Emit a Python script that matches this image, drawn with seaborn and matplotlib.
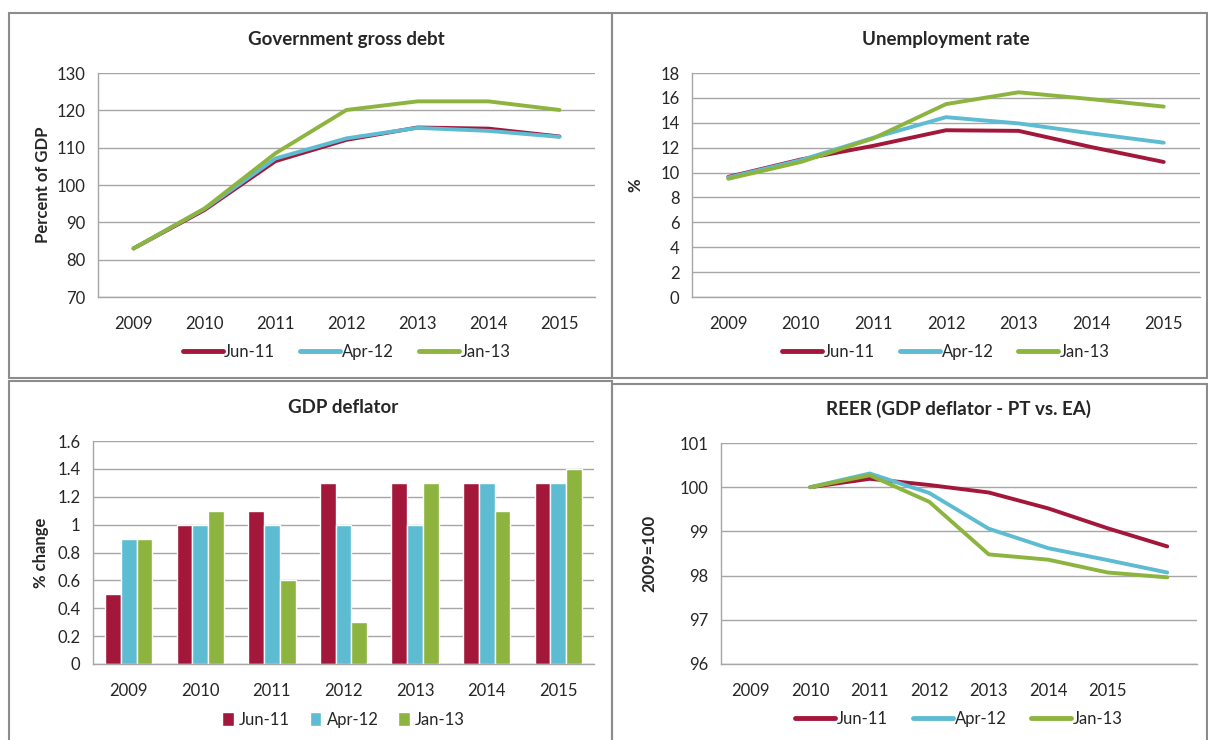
import numpy as np
import pandas as pd
import matplotlib
matplotlib.use('Agg')
import matplotlib.pyplot as plt
from matplotlib.patches import Rectangle
import seaborn as sns

# ---- Data ----
years = ['2009', '2010', '2011', '2012', '2013', '2014', '2015']
vintages = ['Jun-11', 'Apr-12', 'Jan-13']
colors = {'Jun-11': '#A3173A', 'Apr-12': '#5DBCD2', 'Jan-13': '#8DB43F'}

debt_jun11 = [83.0, 93.3, 106.4, 112.1, 115.4, 115.1, 113.0]
debt_apr12 = [83.0, 93.6, 107.1, 112.5, 115.3, 114.5, 112.9]
debt_jan13 = [83.0, 93.7, 108.5, 120.1, 122.4, 122.4, 120.1]

unemp_jun11 = [9.65, 11.05, 12.15, 13.4, 13.35, 12.05, 10.85]
unemp_apr12 = [9.6, 11.0, 12.8, 14.45, 13.95, 13.15, 12.4]
unemp_jan13 = [9.5, 10.85, 12.75, 15.5, 16.45, 15.9, 15.3]

defl_jun11 = [0.5, 1.0, 1.1, 1.3, 1.3, 1.3, 1.3]
defl_apr12 = [0.9, 1.0, 1.0, 1.0, 1.0, 1.3, 1.3]
defl_jan13 = [0.9, 1.1, 0.6, 0.3, 1.3, 1.1, 1.4]

# REER axis has an extra unlabeled slot at the end; data start at the "2010" slot
reer_labels = years + ['']
reer_jun11 = [100.0, 100.19, 100.05, 99.88, 99.52, 99.07, 98.66]
reer_apr12 = [100.0, 100.31, 99.87, 99.06, 98.62, 98.35, 98.07]
reer_jan13 = [100.0, 100.27, 99.67, 98.48, 98.36, 98.07, 97.96]


def long_frame(series, positions):
    rows = []
    for name, vals in zip(vintages, series):
        for p, v in zip(positions, vals):
            rows.append({'pos': p, 'value': v, 'vintage': name})
    return pd.DataFrame(rows)


sns.set_theme(style='white')
plt.rcParams['font.family'] = ['Lato', 'DejaVu Sans']

W, H = 1208, 740
fig = plt.figure(figsize=(W / 100, H / 100), dpi=100)
fig.patch.set_facecolor('white')


def px_axes(x0, y0, x1, y1):
    return fig.add_axes([x0 / W, 1 - y1 / H, (x1 - x0) / W, (y1 - y0) / H])


GRID = '#A6A6A6'


def style_axes(ax, labels, ylim, yticks, ytick_labels, ylabel, title, labelpad=5):
    n = len(labels)
    ax.set_xlim(-0.5, n - 0.5)
    ax.set_ylim(*ylim)
    ax.set_yticks(yticks)
    ax.set_yticklabels(ytick_labels, fontsize=12)
    ax.set_xticks(np.arange(-0.5, n, 1.0))
    ax.set_xticklabels([])
    ax.set_xticks(np.arange(n), minor=True)
    ax.set_xticklabels(labels, minor=True, fontsize=12)
    ax.tick_params(axis='x', which='major', length=5, color=GRID, width=1, direction='out')
    ax.tick_params(axis='x', which='minor', length=0, pad=14)
    ax.tick_params(axis='y', length=5, color=GRID, width=1, direction='out', pad=4)
    ax.yaxis.grid(True, color=GRID, lw=1)
    ax.xaxis.grid(False)
    ax.set_axisbelow(True)
    for s in ['top', 'right']:
        ax.spines[s].set_visible(False)
    for s in ['left', 'bottom']:
        ax.spines[s].set_color(GRID)
        ax.spines[s].set_linewidth(1)
    ax.set_xlabel('')
    ax.set_ylabel(ylabel, fontsize=12, fontweight='bold', labelpad=labelpad)
    ax.set_title(title, fontsize=13.5, fontweight='bold', pad=20)


def line_panel(ax, series, positions, labels, ylim, yticks, ytick_labels, ylabel, title,
               legend_y, labelpad=5):
    df = long_frame(series, positions)
    sns.lineplot(data=df, x='pos', y='value', hue='vintage', palette=colors,
                 hue_order=vintages, lw=2.8, ax=ax, legend=True)
    style_axes(ax, labels, ylim, yticks, ytick_labels, ylabel, title, labelpad)
    leg = ax.legend(loc='center', bbox_to_anchor=(0.5, legend_y), ncol=3, frameon=False,
                    fontsize=12, handlelength=2.4, handletextpad=0.1, columnspacing=1.5)
    for h in leg.get_lines():
        h.set_linewidth(3.5)


# ---- Panel borders ----
for (x0, y0, x1, y1) in [(9, 13, 612, 378), (612, 13, 1207, 378),
                         (9, 381, 612, 745), (612, 384, 1207, 745)]:
    fig.patches.append(Rectangle((x0 / W, 1 - y1 / H), (x1 - x0) / W, (y1 - y0) / H,
                                 transform=fig.transFigure, fill=False,
                                 edgecolor='#8C8C8C', lw=1.5))

# ---- 1. Government gross debt ----
ax1 = px_axes(98, 73, 595, 297)
line_panel(ax1, [debt_jun11, debt_apr12, debt_jan13], range(7), years,
           (70, 130), range(70, 131, 10), [str(v) for v in range(70, 131, 10)],
           'Percent of GDP', 'Government gross debt', -0.245, labelpad=4)

# ---- 2. Unemployment rate ----
ax2 = px_axes(692, 73, 1200, 297)
line_panel(ax2, [unemp_jun11, unemp_apr12, unemp_jan13], range(7), years,
           (0, 18), range(0, 19, 2), [str(v) for v in range(0, 19, 2)],
           '%', 'Unemployment rate', -0.245, labelpad=12)

# ---- 3. GDP deflator (bars) ----
ax3 = px_axes(93, 441, 594, 664)
bar_df = long_frame([defl_jun11, defl_apr12, defl_jan13], years)
sns.barplot(data=bar_df, x='pos', y='value', hue='vintage', palette=colors,
            hue_order=vintages, width=0.66, gap=0, saturation=1, ax=ax3)
bt = [0, 0.2, 0.4, 0.6, 0.8, 1.0, 1.2, 1.4, 1.6]
style_axes(ax3, years, (0, 1.6), bt, ['0', '0.2', '0.4', '0.6', '0.8', '1', '1.2', '1.4', '1.6'],
           '% change', 'GDP deflator', labelpad=6)
ax3.legend(loc='center', bbox_to_anchor=(0.5, -0.25), ncol=3, frameon=False,
           fontsize=12, handlelength=0.7, handleheight=0.9, handletextpad=0.3,
           columnspacing=1.2)

# ---- 4. REER ----
ax4 = px_axes(721, 443, 1197, 664)
line_panel(ax4, [reer_jun11, reer_apr12, reer_jan13], range(1, 8), reer_labels,
           (96, 101), range(96, 102), [str(v) for v in range(96, 102)],
           '2009=100', 'REER (GDP deflator - PT vs. EA)', -0.25, labelpad=16)

fig.savefig('out.png', dpi=100, facecolor='white')
